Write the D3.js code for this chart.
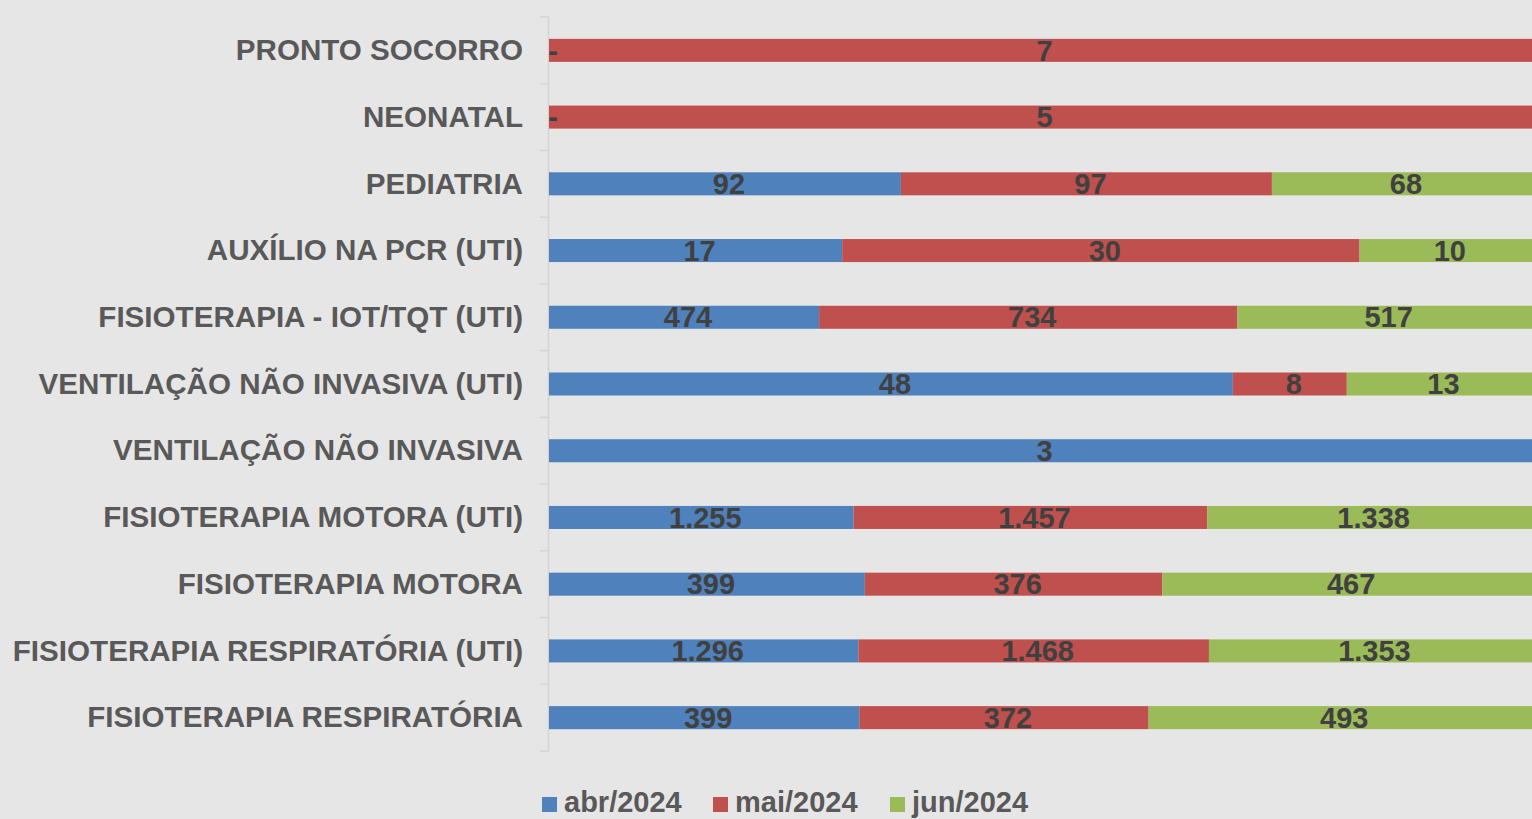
<!DOCTYPE html>
<html lang="pt-BR">
    <head>
        <meta charset="utf-8">
        <title>D3</title>
        <script type="text/javascript" src="https://cdnjs.cloudflare.com/ajax/libs/d3/7.8.5/d3.min.js"></script>
        <style type="text/css">
            body { margin: 0; overflow: hidden; background: #e6e6e6; }
            text { font-family: "Liberation Sans", Arial, sans-serif; font-weight: bold; }
        </style>
    </head>
    <body>
        <script type="text/javascript">
            var w = 1532;
            var h = 819;

            var categories = [
                "PRONTO SOCORRO",
                "NEONATAL",
                "PEDIATRIA",
                "AUXÍLIO NA PCR (UTI)",
                "FISIOTERAPIA - IOT/TQT (UTI)",
                "VENTILAÇÃO NÃO INVASIVA (UTI)",
                "VENTILAÇÃO NÃO INVASIVA",
                "FISIOTERAPIA MOTORA (UTI)",
                "FISIOTERAPIA MOTORA",
                "FISIOTERAPIA RESPIRATÓRIA (UTI)",
                "FISIOTERAPIA RESPIRATÓRIA"
            ];
            var seriesNames = ["abr/2024", "mai/2024", "jun/2024"];
            var colors = ["#4f81bd", "#c0504d", "#9bbb59"];

            // null = sem dado, 0 = mostrado como "-"
            var abr = [0, 0, 92, 17, 474, 48, 3, 1255, 399, 1296, 399];
            var mai = [7, 5, 97, 30, 734, 8, null, 1457, 376, 1468, 372];
            var jun = [null, null, 68, 10, 517, 13, null, 1338, 467, 1353, 493];
            var series = [abr, mai, jun];

            var fmt = d3.formatLocale({decimal: ",", thousands: ".", grouping: [3], currency: ["R$", ""]}).format(",d");

            var plotLeft = 549;
            var plotTop = 17;
            var plotBottom = 751;

            var svg = d3.select("body")
                        .append("svg")
                        .attr("width", w)
                        .attr("height", h);

            var y = d3.scaleBand()
                      .domain(categories)
                      .range([plotTop, plotBottom])
                      .paddingInner(0.655)
                      .paddingOuter(0.3275);

            var x = d3.scaleLinear().domain([0, 1]).range([plotLeft, w]);

            // build stacked 100% segments
            var segs = [];
            categories.forEach(function(c, i) {
                var total = d3.sum(series, function(s) { return s[i] || 0; });
                var acc = 0;
                series.forEach(function(s, k) {
                    if (s[i] === null) return;
                    var v = s[i];
                    var x0 = acc / total;
                    acc += v;
                    segs.push({cat: c, k: k, v: v, x0: x0, x1: acc / total});
                });
            });

            // axis line + ticks at band edges
            var gap = (y.step() - y.bandwidth()) / 2;
            var edges = categories.map(function(c) { return y(c) - gap; });
            edges.push(y(categories[categories.length - 1]) + y.bandwidth() + gap);

            svg.append("line")
               .attr("x1", plotLeft - 0.5).attr("x2", plotLeft - 0.5)
               .attr("y1", edges[0]).attr("y2", edges[edges.length - 1])
               .attr("stroke", "#d4d4d4").attr("stroke-width", 1.5);

            svg.selectAll("line.tick")
               .data(edges)
               .enter()
               .append("line")
               .attr("class", "tick")
               .attr("x1", plotLeft - 9).attr("x2", plotLeft)
               .attr("y1", function(d) { return d; })
               .attr("y2", function(d) { return d; })
               .attr("stroke", "#d4d4d4").attr("stroke-width", 1.5);

            svg.selectAll("rect.seg")
               .data(segs)
               .enter()
               .append("rect")
               .attr("class", "seg")
               .attr("x", function(d) { return x(d.x0); })
               .attr("width", function(d) { return x(d.x1) - x(d.x0); })
               .attr("y", function(d) { return y(d.cat); })
               .attr("height", y.bandwidth())
               .attr("fill", function(d) { return colors[d.k]; });

            svg.selectAll("text.val")
               .data(segs)
               .enter()
               .append("text")
               .attr("class", "val")
               .text(function(d) { return d.v === 0 ? "-" : fmt(d.v); })
               .attr("x", function(d) {
                   if (d.v === 0) return x(d.x0) + 4;
                   return (x(d.x0) + x(d.x1)) / 2 + 4;
               })
               .attr("y", function(d) { return y(d.cat) + y.bandwidth() / 2; })
               .attr("dy", "0.35em")
               .attr("text-anchor", "middle")
               .attr("font-size", "29px")
               .attr("fill", "#404040");

            svg.selectAll("text.cat")
               .data(categories)
               .enter()
               .append("text")
               .attr("class", "cat")
               .text(function(d) { return d; })
               .attr("x", plotLeft - 26)
               .attr("y", function(d) { return y(d) + y.bandwidth() / 2; })
               .attr("dy", "0.33em")
               .attr("text-anchor", "end")
               .attr("font-size", "29.6px")
               .attr("fill", "#595959");

            // legend
            var legX = [542, 713, 890];
            var leg = svg.selectAll("g.leg")
                         .data(seriesNames)
                         .enter()
                         .append("g")
                         .attr("class", "leg")
                         .attr("transform", function(d, i) { return "translate(" + legX[i] + ",797)"; });

            leg.append("rect")
               .attr("width", 15)
               .attr("height", 15)
               .attr("fill", function(d, i) { return colors[i]; });

            leg.append("text")
               .text(function(d) { return d; })
               .attr("x", 22)
               .attr("y", 15)
               .attr("font-size", "29px")
               .attr("fill", "#595959");
        </script>
    </body>
</html>
